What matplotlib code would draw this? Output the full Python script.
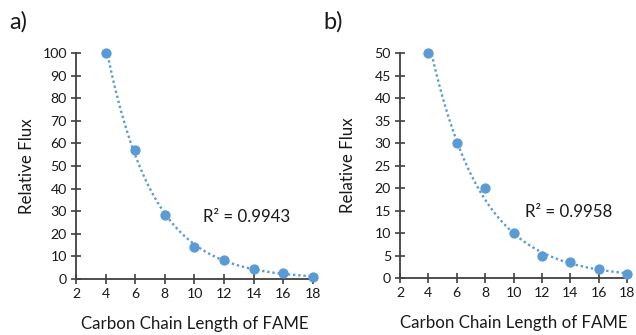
import numpy as np
import matplotlib
matplotlib.use("Agg")
import matplotlib.pyplot as plt

plt.rcParams['font.family'] = ['Lato', 'DejaVu Sans']

chain_length = [4, 6, 8, 10, 12, 14, 16, 18]
flux_a = [100, 57, 28.5, 14.3, 8.5, 4.3, 2.8, 1.0]
flux_b = [50, 30, 20, 10, 5, 3.5, 2, 1.0]
r2_a = "R² = 0.9943"
r2_b = "R² = 0.9958"
xticks = [2, 4, 6, 8, 10, 12, 14, 16, 18]
yticks_a = list(range(0, 101, 10))
yticks_b = list(range(0, 51, 5))

color = '#5B9BD5'
spine_col = '#404040'

fig = plt.figure(figsize=(6.36, 3.35), dpi=100)
ax_a = fig.add_axes([0.1195, 0.1672, 0.3726, 0.6746])
ax_b = fig.add_axes([0.6289, 0.1701, 0.3570, 0.6716])

def draw(ax, x, y, yticks, r2, r2pos, label, labelpos, ylabx):
    x = np.array(x, float); y = np.array(y, float)
    b, a = np.polyfit(x, np.log(y), 1)
    xf = np.linspace(x.min(), x.max(), 200)
    ax.plot(xf, np.exp(a + b * xf), linestyle=(0, (1, 1.2)), color=color, lw=1.7, zorder=2)
    ax.plot(x, y, 'o', color=color, ms=6.4, zorder=3, clip_on=False)
    ax.set_xlim(2, 18)
    ax.set_ylim(0, yticks[-1])
    ax.set_xticks(xticks)
    ax.set_yticks(yticks)
    for s in ['top', 'right']:
        ax.spines[s].set_visible(False)
    for s in ['left', 'bottom']:
        ax.spines[s].set_color(spine_col)
        ax.spines[s].set_linewidth(1.3)
    ax.tick_params(direction='inout', length=7, width=1.2, color=spine_col,
                   labelsize=10.2, labelcolor='#1a1a1a', pad=3)
    ax.set_xlabel('Carbon Chain Length of FAME', fontsize=12.2, color='#1a1a1a', va='center')
    ax.xaxis.set_label_coords(0.5, -0.2)
    ax.set_ylabel('Relative Flux', fontsize=12.2, color='#1a1a1a', va='center')
    ax.yaxis.set_label_coords(ylabx, 0.5)
    ax.text(r2pos[0], r2pos[1], r2, fontsize=12.2, va='center', ha='left', color='#1a1a1a')
    fig.text(labelpos[0], labelpos[1], label, fontsize=17, va='center', ha='left', color='#1a1a1a')

draw(ax_a, chain_length, flux_a, yticks_a, r2_a, (10.55, 27.4), 'a)', (0.014, 0.935), -0.208)
draw(ax_b, chain_length, flux_b, yticks_b, r2_b, (10.8, 14.7), 'b)', (0.508, 0.935), -0.23)

fig.savefig('out.png', dpi=100)
